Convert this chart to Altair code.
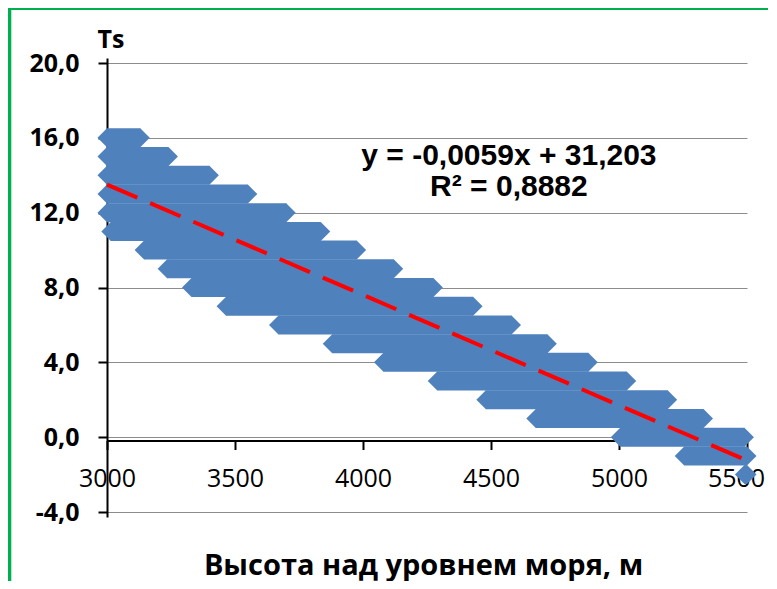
import altair as alt
import pandas as pd

# ---- data ----
ts_values = [16, 15, 14, 13, 12, 11, 10, 9, 8, 7, 6, 5, 4, 3, 2, 1, 0, -1, -2]
band_start = [3000, 3000, 3000, 3000, 3000, 3015, 3145, 3235, 3330, 3465,
              3670, 3880, 4080, 4290, 4480, 4675, 5005, 5255, 5490]
band_end = [3130, 3240, 3400, 3550, 3700, 3835, 3975, 4120, 4275, 4430,
            4580, 4720, 4880, 5030, 5190, 5330, 5490, 5500, 5500]

x_ticks = [3000, 3500, 4000, 4500, 5000, 5500]
y_ticks = [-4, 0, 4, 8, 12, 16, 20]

trend_slope = -0.0059
trend_intercept = 31.203
trend_x = [3000, 5500]
eq_lines = ["y = -0,0059x + 31,203", "R² = 0,8882"]

x_title = "Высота над уровнем моря, м"
y_title = "Ts"

bands = pd.DataFrame({"ts": ts_values, "start": band_start, "end": band_end})
trend_df = pd.DataFrame({"x": trend_x})
one = pd.DataFrame({"k": [0]})

BLUE = "#4F81BD"

x_scale = alt.Scale(domain=[3000, 5500], nice=False, zero=False)
y_scale = alt.Scale(domain=[-4, 20], nice=False, zero=False)

x_axis = alt.Axis(
    values=x_ticks, format="d", title=x_title, offset=-76.5, grid=False,
    domainColor="black", domainWidth=2, tickColor="black", tickWidth=2, tickSize=9,
    labelFont="Open Sans", labelFontSize=25, labelColor="black", labelPadding=17,
    labelFlush=False, labelOverlap=False,
    labelOffset={"condition": {"test": "datum.value == 5500", "value": -11}, "value": 0},
    titleFont="Open Sans", titleFontSize=29, titleFontWeight="bold", titleColor="black",
    titleX=316, titleY=133.5, titleBaseline="alphabetic", titleAlign="center",
)
y_axis = alt.Axis(
    values=y_ticks,
    labelExpr="replace(replace(format(datum.value, '.1f'), '.', ','), '\u2212', '-')",
    title=y_title, titleAngle=0, titleX=3.5, titleY=-11, titleAlign="center",
    titleBaseline="alphabetic", titleFont="Open Sans", titleFontSize=25,
    titleFontWeight="bold", titleColor="black",
    grid=True, gridColor="#8c8c8c", gridWidth=1,
    domainColor="black", domainWidth=2, tickColor="black", tickWidth=2, tickSize=9,
    labelFont="Open Sans", labelFontSize=25, labelFontWeight="bold", labelColor="black",
    labelPadding=19, labelBaseline="middle",
)

border = alt.Chart(one).mark_rect(fillOpacity=0, stroke="#00B050", strokeWidth=4).encode(
    x=alt.value(-97.7), x2=alt.value(900), y=alt.value(-50), y2=alt.value(900)
)

bars = alt.Chart(bands).mark_bar(color=BLUE, size=19).encode(
    x=alt.X("start:Q", scale=x_scale, axis=x_axis),
    x2="end:Q",
    y=alt.Y("ts:Q", scale=y_scale, axis=y_axis),
)

points = alt.Chart(bands).transform_fold(
    ["start", "end"], as_=["kind", "xpos"]
).mark_point(shape="diamond", filled=True, size=361, color=BLUE, opacity=1, strokeWidth=0).encode(
    x=alt.X("xpos:Q", scale=x_scale, axis=x_axis),
    y=alt.Y("ts:Q", scale=y_scale, axis=y_axis),
)

trend = alt.Chart(trend_df).transform_calculate(
    y=f"{trend_slope} * datum.x + {trend_intercept}"
).mark_line(color="#FF0000", strokeWidth=4, strokeDash=[33, 14], strokeCap="butt").encode(
    x=alt.X("x:Q", scale=x_scale, axis=x_axis),
    y=alt.Y("y:Q", scale=y_scale, axis=y_axis),
)

label = alt.Chart(one).mark_text(
    font="Liberation Sans", fontSize=30, fontWeight="bold", lineHeight=31,
    align="center", baseline="alphabetic", color="black",
).encode(x=alt.datum(4570), y=alt.datum(14.56), text=alt.value(eq_lines))

chart = alt.layer(border, bars, points, trend, label).properties(
    width=640, height=459,
    padding={"left": 99, "top": 50, "right": 21, "bottom": 64},
    autosize=alt.AutoSizeParams(type="none"),
    background="white",
).configure_view(stroke=None)

chart.save("out.html", embed_options={"renderer": "svg", "actions": False})
